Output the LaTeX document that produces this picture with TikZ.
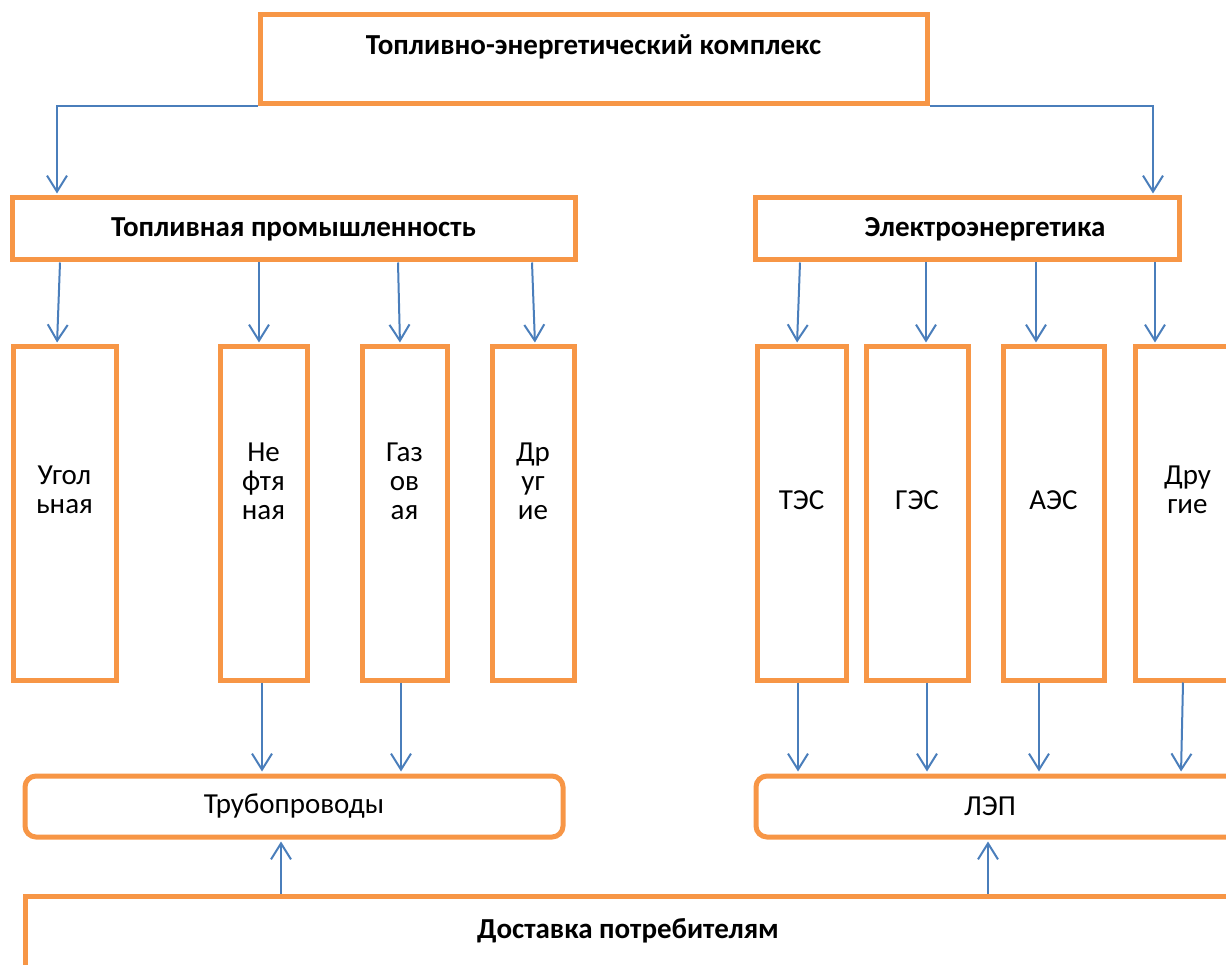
\documentclass[tikz,border=0pt]{standalone}
\usepackage{fontspec}
\setmainfont{Carlito}
\usetikzlibrary{arrows.meta,calc}
\definecolor{boxor}{HTML}{F79646}
\definecolor{linebl}{HTML}{4A7EBB}
\begin{document}
\begin{tikzpicture}[x=1pt,y=-1pt,font=\fontsize{29}{29}\selectfont,
    box/.style={draw=boxor,line width=5pt,inner sep=0pt,fill=white},
    tall/.style={box,minimum height=333pt,minimum width=#1},
    pipe/.style={box,rounded corners=11pt,minimum height=61pt},
    arr/.style={draw=linebl,line width=2pt,-{Straight Barb[length=16pt,width=20pt]},shorten >=2pt},
    txt/.style={align=center,inner sep=0pt},
    head/.style={txt,font=\fontsize{29}{29}\selectfont\bfseries}]
  \useasboundingbox (0,0) rectangle (1226,965);
  \clip (0,0) rectangle (1226,965);
  % top level
  \node[box,minimum width=667pt,minimum height=89pt] (tek) at (593.5,59.5) {};
  \node[head,anchor=base] (tekt) at (593.5,55) {Топливно-энергетический комплекс};
  \node[box,minimum width=563pt,minimum height=62pt,font=\fontsize{29}{29}\selectfont\bfseries] (tp) at (293.5,229) {Топливная промышленность};
  \node[box,minimum width=424pt,minimum height=62pt] (ee) at (967,229) {};
  \node[head] (eet) at (985,229) {Электроэнергетика};
  \draw[arr] (tek.south west) -| (tp.north -| 57,0);
  \draw[arr] (tek.south east) -| (ee.north -| 1153,0);
  % branches
  \foreach \n/\x/\w/\y/\t in {ug/64.5/103/490/{Угол\\ьная},nf/263.5/87/481/{Не\\фтя\\ная},
      gz/404.5/85/481/{Газ\\ов\\ая},dr/533/82/481/{Др\\уг\\ие},tes/801.5/89/500/{ТЭС},
      ges/917/102/500/{ГЭС},aes/1053.5/101/500/{АЭС},drr/1187.5/105/490/{Дру\\гие}}{
    \node[tall=\w pt] (\n) at (\x,513.5) {};
    \node[txt] (\n t) at (\x,\y) {\t};
  }
  \foreach \a/\b/\n in {60/57/ug,259/259/nf,398/400/gz,532/535/dr}
    \draw[arr] (tp.south -| \a,0) -- (\n.north -| \b,0);
  \foreach \a/\b/\n in {800/797/tes,926/926/ges,1036/1036/aes,1155/1155/drr}
    \draw[arr] (ee.south -| \a,0) -- (\n.north -| \b,0);
  % transport
  \node[pipe,minimum width=538pt] (tr) at (294,806.5) {Трубопроводы};
  \node[pipe,minimum width=484pt] (lep) at (998,806.5) {};
  \node[txt] (lept) at (990,806.5) {ЛЭП};
  \foreach \x/\n in {262/nf,401/gz}
    \draw[arr] (\n.south -| \x,0) -- (tr.north -| \x,0);
  \foreach \a/\b/\n in {798/798/tes,927/927/ges,1039/1039/aes,1183/1181/drr}
    \draw[arr] (\n.south -| \a,0) -- (lep.north -| \b,0);
  \node[box,minimum width=1215pt,minimum height=114pt] (dv) at (632.5,953) {};
  \node[head,anchor=base] (dvt) at (628,938) {Доставка потребителям};
  \draw[arr] (dv.north -| 281,0) -- (tr.south -| 281,0);
  \draw[arr] (dv.north -| 988,0) -- (lep.south -| 988,0);
\end{tikzpicture}
\end{document}
